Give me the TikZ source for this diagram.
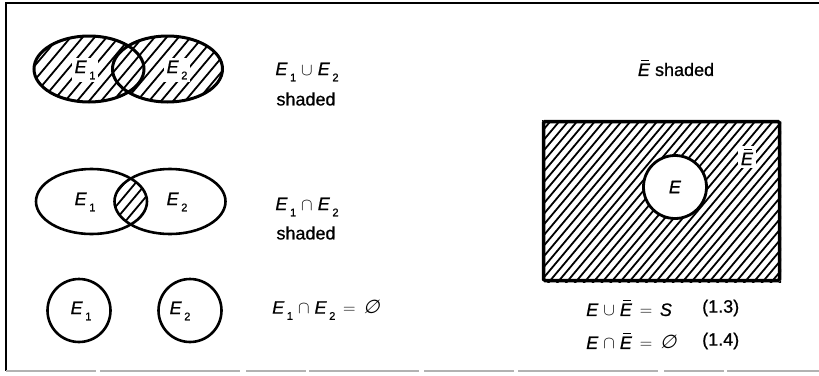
\documentclass[tikz,border=0pt]{standalone}
\usepackage{fontspec}
\setmainfont{Liberation Sans}[FakeBold=0.8]
\newfontfamily\symfont{DejaVu Sans}[FakeSlant=0.25, Scale=1.05]
\usetikzlibrary{shapes.geometric}
\newcommand\sub[1]{\kern0.14em\raisebox{-0.34em}{\fontsize{11}{11}\selectfont #1}}
\newcommand\Ei{\textit{E}}
\newcommand\Eb{\textit{E}\llap{\rule[0.82em]{0.44em}{1.3pt}\kern0.04em}}
\newcommand\nul{{\symfont ∅}}
\newcommand\eqs{\kern0.15em$=$\kern0.15em}
\newcommand\hatch[6]{%
  \foreach \k in {#4,...,#5}
    \draw[hatchline] ({#1+\k*#3-#6*0.84},{#2+#6}) -- ({#1+\k*#3+#6*0.84},{#2-#6});}
\begin{document}
\begin{tikzpicture}[x=1pt,y=-1pt,
  hatchline/.style={line width=1.8pt},
  setline/.style={draw, ellipse, inner sep=0pt, line width=2.6pt},
  lab/.style={font=\fontsize{18}{22}\selectfont, inner sep=1pt},
  wlab/.style={lab, fill=white, inner sep=2.5pt}]
\useasboundingbox (0,0) rectangle (819,375);
% frame
\draw[line width=1.6pt] (819,3) -- (6,3) -- (6,371);
\draw[line width=1.4pt, gray!60, dash pattern=on 90pt off 4pt on 140pt off 6pt on 60pt off 3pt on 110pt off 5pt] (6,371) -- (819,371);

% ---- union
\begin{scope}
  \clip (89,69) ellipse [x radius=55pt, y radius=33pt]
        (167.5,69) ellipse [x radius=55pt, y radius=33pt];
  \hatch{128}{69}{12}{-16}{16}{40}
\end{scope}
\node[wlab] (a1) at (85,70) {\Ei\sub1};
\node[wlab] (b1) at (177,70) {\Ei\sub2};
\node[setline, line width=3pt, minimum width=110pt, minimum height=66pt] (A) at (89,69) {};
\node[setline, line width=3pt, minimum width=110pt, minimum height=66pt] (B) at (167.5,69) {};
\node[lab] (u1) at (307,72) {\Ei\sub1 $\cup$ \Ei\sub2};
\node[lab] (u2) at (306,99) {shaded};

% ---- intersection
\begin{scope}
  \clip (91.5,201.5) ellipse [x radius=55pt, y radius=32.5pt];
  \clip (170,201.5) ellipse [x radius=55pt, y radius=32.5pt];
  \hatch{131}{201.5}{11}{-5}{5}{40}
\end{scope}
\node[setline, minimum width=111pt, minimum height=65pt] (C) at (91.5,201.5) {};
\node[setline, minimum width=111pt, minimum height=65pt] (D) at (170,201.5) {};
\node[lab] (c1) at (85,202) {\Ei\sub1};
\node[lab] (d1) at (177,202) {\Ei\sub2};
\node[lab] (i1) at (307,207) {\Ei\sub1 $\cap$ \Ei\sub2};
\node[lab] (i2) at (306,233) {shaded};

% ---- disjoint
\node[draw, circle, line width=2.6pt, minimum size=63pt, inner sep=0pt] (F) at (79,310.5) {};
\node[draw, circle, line width=2.6pt, minimum size=63pt, inner sep=0pt] (G) at (190,310.5) {};
\node[lab] (f1) at (81,311) {\Ei\sub1};
\node[lab] (g1) at (180,311) {\Ei\sub2};
\node[lab, anchor=west] (n1) at (271,310) {\Ei\sub1 $\cap$ \Ei\sub2 \eqs{} \nul};

% ---- complement
\node[lab] (cs) at (676,68) {\Eb{} shaded};
\begin{scope}
  \clip (542,120) rectangle (781,282);
  \hatch{661.5}{201}{8.9}{-40}{40}{100}
\end{scope}
\node[draw, circle, fill=white, line width=2.8pt, minimum size=63pt, inner sep=0pt, font=\fontsize{18}{22}\selectfont] (E) at (675,187) {\Ei};
\node[wlab] (eb) at (747,157) {\Eb};
\node[draw, line width=3.5pt, minimum width=236pt, minimum height=159pt, inner sep=0pt, rounded corners=1.5pt] (S) at (661.5,201) {};
\node[lab, anchor=west] (e1) at (585,308) {\Ei{} $\cup$ \Eb{} \eqs{} \textit{S}};
\node[lab, anchor=west] (e2) at (585,341) {\Ei{} $\cap$ \Eb{} \eqs{} \nul};
\node[lab, anchor=west] (k1) at (701,308) {(1.3)};
\node[lab, anchor=west] (k2) at (701,341) {(1.4)};
\end{tikzpicture}
\end{document}
